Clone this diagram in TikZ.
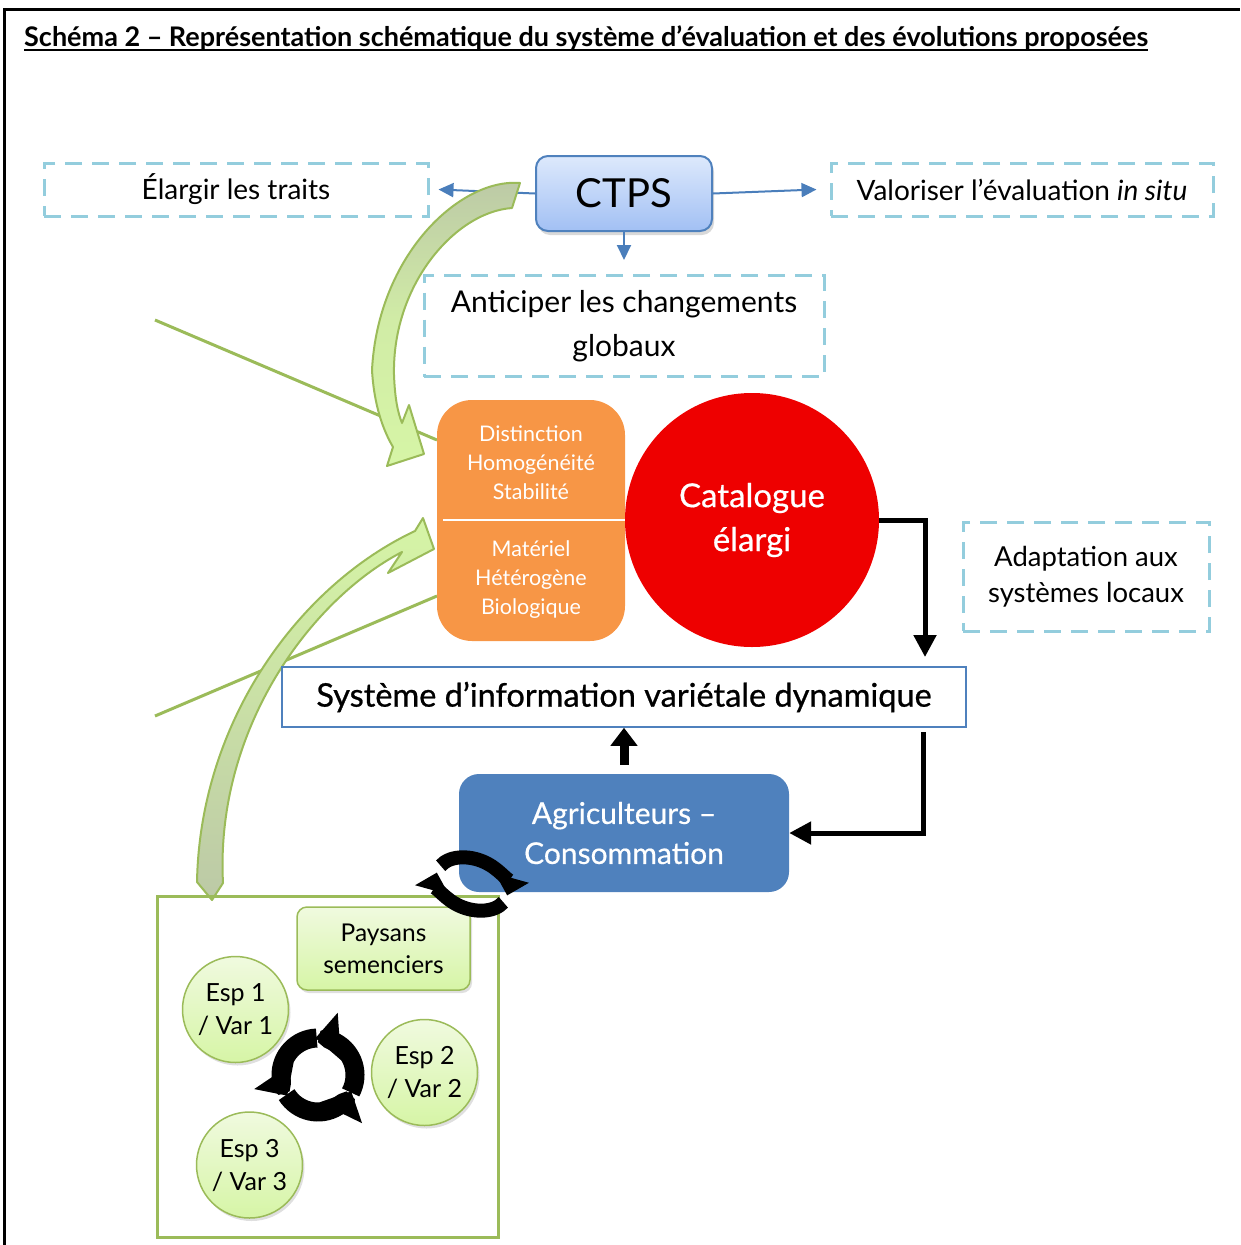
\documentclass[tikz,border=0pt]{standalone}
\usepackage{fontspec}
\setmainfont{Lato}
\usetikzlibrary{arrows.meta,shadows}
\definecolor{dashblue}{HTML}{93CDDD}
\definecolor{linkblue}{HTML}{4A7EBB}
\definecolor{orng}{HTML}{F79646}
\definecolor{catred}{HTML}{EE0000}
\definecolor{agriblue}{HTML}{4F81BD}
\definecolor{grn}{HTML}{9BBB59}
\definecolor{lgrn}{HTML}{D6F5A6}
\definecolor{pale}{HTML}{F0FADF}
\definecolor{greyg}{HTML}{BCC9A6}
\definecolor{ctpstop}{HTML}{DDE9FC}
\definecolor{ctpsbot}{HTML}{A2C0F4}
\begin{document}
\begin{tikzpicture}[x=1pt,y=-1pt,
  dbox/.style={draw=dashblue, line width=3pt, dash pattern=on 17pt off 10pt, align=center, text=black, inner sep=0pt, font=\fontsize{28}{36}\selectfont},
  bluelink/.style={draw=linkblue, line width=2pt, -{Triangle[width=14pt,length=15pt]}},
  blk/.style={draw=black, line width=5pt, -{Triangle[width=22pt,length=22pt]}},
  greenline/.style={draw=grn, line width=3pt},
  bigarrow/.style={draw=grn, line width=2pt, line join=round},
  esp/.style={circle, minimum size=106pt, inner sep=0pt, draw=grn, line width=1.5pt, top color=pale, bottom color=lgrn, align=center, font=\fontsize{25}{33}\selectfont, drop shadow={opacity=0.25, shadow xshift=2pt, shadow yshift=-3pt}},
  cyc/.style={draw=black, line width=19pt, -{Triangle[width=46pt,length=24pt]}},
  cyc2/.style={draw=black, line width=14pt, -{Triangle[width=34pt,length=18pt]}}
]
\useasboundingbox (0,0) rectangle (1240,1245);
% frame
\draw[line width=3pt] (4,1245) -- (4,9) -- (1240,9);
% title
\node[anchor=base west, inner sep=0pt, font=\fontsize{27}{30}\selectfont\bfseries] (title) at (24,46) {Schéma 2 – Représentation schématique du système d’évaluation et des évolutions proposées};
\draw[line width=1.5pt] ([yshift=-4pt]title.base west) -- ([yshift=-4pt]title.base east);

% green straight lines
\draw[greenline] (155,320) -- (437,440);
\draw[greenline] (155,716) -- (437,596);

% dashed boxes
\node[dbox, minimum width=384pt, minimum height=53pt] (elargir) at (236,189.5) {Élargir les traits};
\node[dbox, minimum width=382pt, minimum height=53pt] (valor) at (1022,189.5) {Valoriser l’évaluation \textit{in situ}};
\node[dbox, minimum width=400pt, minimum height=101pt, font=\fontsize{30}{44}\selectfont] (antic) at (624,326) {Anticiper les changements\\globaux};
\node[dbox, minimum width=246pt, minimum height=109pt, font=\fontsize{27.5}{36}\selectfont] (adapt) at (1086,576.5) {Adaptation aux\\systèmes locaux};

% CTPS
\node[draw=agriblue, line width=2pt, rounded corners=12pt, top color=ctpstop, bottom color=ctpsbot, minimum width=176pt, minimum height=75pt, inner sep=0pt, font=\fontsize{40}{42}\selectfont, drop shadow={opacity=0.3, shadow xshift=2pt, shadow yshift=-4pt}] (ctps) at (624,193.5) {CTPS};

\draw[bluelink] (ctps.west) -- ([xshift=9pt]elargir.east);
\draw[bluelink] (ctps.east) -- ([xshift=-13pt]valor.west);
\draw[bluelink] (ctps.south) -- ([yshift=14pt]antic.north);

% orange box
\node[fill=orng, rounded corners=35pt, minimum width=188pt, minimum height=241pt, inner sep=0pt] (dhs) at (531,520.5) {};
\node[text=white, align=center, font=\fontsize{21.5}{29}\selectfont] (dhstxt) at (531,462.5) {Distinction\\Homogénéité\\Stabilité};
\node[text=white, align=center, font=\fontsize{21.5}{29}\selectfont] (mhbtxt) at (531,579.5) {Matériel\\Hétérogène\\Biologique};
\draw[white, line width=2pt] (443,520) -- (627,520);

% catalogue
\node[circle, fill=catred, minimum size=254pt, inner sep=0pt, text=white, align=center, font=\fontsize{33}{44}\selectfont\addfontfeature{FakeBold=0.5}] (cat) at (752,520) {Catalogue\\élargi};

% curved green arrows
\shade[bigarrow, top color=greyg, bottom color=lgrn, middle color=lgrn!80!greyg]
  (520,183) .. controls (460,178) and (378,255) .. (372,370)
  .. controls (374,405) and (383,430) .. (393,447)
  -- (387,466) -- (424,454) -- (409,405) -- (402,423)
  .. controls (398,413) and (395,400) .. (394,375)
  .. controls (392,285) and (455,212) .. (512,208) -- cycle;
\shade[bigarrow, top color=lgrn, bottom color=greyg]
  (212,900) -- (197,882)
  .. controls (200,720) and (300,585) .. (415,531)
  -- (423,518) -- (434,549) -- (388,573) -- (402,552)
  .. controls (310,600) and (215,730) .. (223,883) -- cycle;

% systeme
\node[draw=agriblue, line width=1.5pt, fill=white, minimum width=684pt, minimum height=60pt, inner sep=0pt, font=\fontsize{32.5}{34}\selectfont\addfontfeature{FakeBold=0.8}] (sys) at (624,697) {Système d’information variétale dynamique};

% agriculteurs
\node[fill=agriblue, rounded corners=20pt, minimum width=330pt, minimum height=118pt, inner sep=0pt, text=white, align=center, font=\fontsize{30}{40}\selectfont\addfontfeature{FakeBold=0.5}] (agri) at (624,833) {Agriculteurs –\\Consommation};

% black arrows
\coordinate (c1) at (925,657);
\coordinate (c2) at (923,732);
\draw[blk] (cat.east) -| (c1);
\draw[blk] (c2) |- (agri.east);
\draw[draw=black, line width=9pt, -{Triangle[width=26pt,length=18pt]}] ([yshift=9pt]agri.north) -- (sys.south);

% field square
\draw[greenline] (157,896) rectangle (498,1237);

% paysans
\node[draw=grn, line width=1.5pt, rounded corners=10pt, top color=pale, bottom color=lgrn, minimum width=173pt, minimum height=83pt, inner sep=0pt, align=center, font=\fontsize{24.5}{32}\selectfont, drop shadow={opacity=0.25, shadow xshift=2pt, shadow yshift=-3pt}] (pays) at (383.5,948.5) {Paysans\\semenciers};

\node[esp] (e1) at (235.5,1009.5) {Esp 1\\/ Var 1};
\node[esp] (e2) at (424.5,1072.5) {Esp 2\\/ Var 2};
\node[esp] (e3) at (249.5,1165) {Esp 3\\/ Var 3};

% three-arrow cycle
\coordinate (cyc3) at (318,1075);
\draw[cyc] ([shift={(-28:37pt)}]cyc3) arc[start angle=-28, end angle=94, radius=37pt];
\draw[cyc] ([shift={(92:37pt)}]cyc3) arc[start angle=92, end angle=214, radius=37pt];
\draw[cyc] ([shift={(212:37pt)}]cyc3) arc[start angle=212, end angle=334, radius=37pt];

% two-arrow cycle
\begin{scope}[shift={(472,884)}, rotate=-20]
\coordinate (cyc2c) at (0,0);
\draw[cyc2] ([shift={(165:37pt and 25pt)}]cyc2c) arc[start angle=165, end angle=3, x radius=37pt, y radius=25pt];
\draw[cyc2] ([shift={(-15:37pt and 25pt)}]cyc2c) arc[start angle=-15, end angle=-177, x radius=37pt, y radius=25pt];
\end{scope}
\end{tikzpicture}
\end{document}
